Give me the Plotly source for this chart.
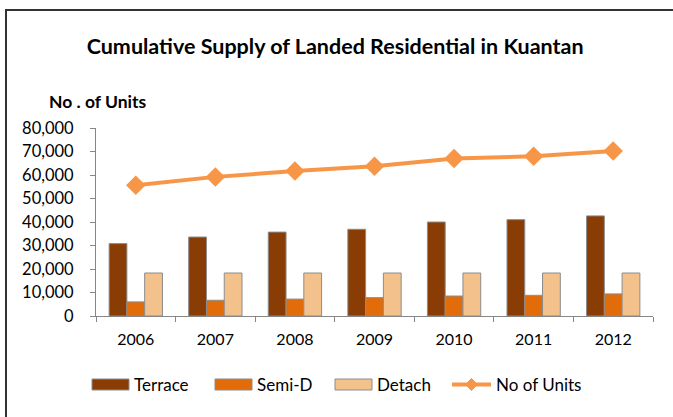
import plotly.graph_objects as go

years = ["2006", "2007", "2008", "2009", "2010", "2011", "2012"]
terrace = [30800, 33600, 35700, 36900, 40000, 41000, 42600]
semi_d = [6000, 6700, 7200, 7800, 8500, 8800, 9400]
detach = [18300, 18300, 18300, 18300, 18300, 18300, 18300]
units = [55600, 59200, 61700, 63700, 67000, 68000, 70200]
series_names = ["Terrace", "Semi-D", "Detach", "No of Units"]

FONT = "Lato"
C_TER, C_SEMI, C_DET, C_LINE = "#8A3C05", "#E36C0A", "#F3C18C", "#F79646"
EDGE = "#8c8c8c"

fig = go.Figure()
fig.add_trace(go.Bar(x=years, y=terrace, name=series_names[0],
                     marker=dict(color=C_TER, line=dict(color=EDGE, width=1))))
fig.add_trace(go.Bar(x=years, y=semi_d, name=series_names[1],
                     marker=dict(color=C_SEMI, line=dict(color=EDGE, width=1))))
fig.add_trace(go.Bar(x=years, y=detach, name=series_names[2],
                     marker=dict(color=C_DET, line=dict(color=EDGE, width=1))))
fig.add_trace(go.Scatter(x=years, y=units, name=series_names[3], mode="lines+markers",
                         line=dict(color=C_LINE, width=4),
                         marker=dict(symbol="diamond", size=15, color=C_LINE)))

L, R, T, B = 96, 20, 128, 101
W, H = 673, 417
pw, ph = W - L - R, H - T - B

def px(x):
    return (x - L) / pw

def py(y):
    return (H - B - y) / ph

fig.update_layout(
    width=W, height=H,
    margin=dict(l=L, r=R, t=T, b=B),
    paper_bgcolor="white", plot_bgcolor="white",
    font=dict(family=FONT, size=16, color="#000000"),
    barmode="group", bargap=0.33, bargroupgap=0,
    title=dict(text="<b>Cumulative Supply of Landed Residential in Kuantan</b>",
               x=0.498, xanchor="center", y=1 - 46 / H, yanchor="middle",
               font=dict(family=FONT, size=21.5, color="#000000")),
    showlegend=False,
)
fig.update_xaxes(type="category", showline=True, linecolor="#868686", linewidth=1,
                 ticks="outside", tickson="boundaries", ticklen=5, tickcolor="#868686",
                 showgrid=False, tickfont=dict(family=FONT, size=16), ticklabelstandoff=9)
fig.update_yaxes(range=[0, 80000], dtick=10000, tickformat=",", showline=True,
                 linecolor="#868686", linewidth=1, ticks="outside", ticklen=5,
                 tickcolor="#868686", showgrid=False, zeroline=False,
                 tickfont=dict(family=FONT, size=16.5), ticklabelstandoff=13)

fig.add_annotation(text="<b>No . of Units</b>", xref="paper", yref="paper",
                   x=px(47), y=py(101), xanchor="left", yanchor="middle",
                   showarrow=False, font=dict(family=FONT, size=17.5, color="#000000"))

# legend drawn manually (wide rectangular swatches like the original)
leg_y = 384.5
swatches = [(92, 129, C_TER), (215, 252, C_SEMI), (335, 372, C_DET)]
for (x0, x1, col), name in zip(swatches, series_names[:3]):
    fig.add_shape(type="rect", xref="paper", yref="paper",
                  x0=px(x0), x1=px(x1), y0=py(leg_y + 5.5), y1=py(leg_y - 5.5),
                  fillcolor=col, line=dict(color=EDGE, width=1))
    fig.add_annotation(text=name, xref="paper", yref="paper", x=px(x1 + 3), y=py(leg_y),
                       xanchor="left", yanchor="middle", showarrow=False,
                       font=dict(family=FONT, size=17, color="#000000"))
fig.add_shape(type="line", xref="paper", yref="paper", x0=px(452), x1=px(491),
              y0=py(leg_y), y1=py(leg_y), line=dict(color=C_LINE, width=4))
cx, cy, r = 471.5, leg_y, 6
diamond = "M {} {} L {} {} L {} {} L {} {} Z".format(
    px(cx), py(cy - r), px(cx + r), py(cy), px(cx), py(cy + r), px(cx - r), py(cy))
fig.add_shape(type="path", xref="paper", yref="paper", path=diamond,
              fillcolor=C_LINE, line=dict(color=C_LINE, width=1))
fig.add_annotation(text=series_names[3], xref="paper", yref="paper", x=px(494), y=py(leg_y),
                   xanchor="left", yanchor="middle", showarrow=False,
                   font=dict(family=FONT, size=17, color="#000000"))

fig.write_html("out.html", config={"displayModeBar": False})
with open("out.html", "r", encoding="utf-8") as f:
    html = f.read()
html = html.replace(
    "<head>",
    "<head><style>html,body{margin:0;padding:0;overflow:hidden;}"
    "#frame{position:fixed;left:5px;top:9px;width:2000px;height:2000px;"
    "border-left:2px solid #333;border-top:2px solid #333;pointer-events:none;"
    "z-index:10;}</style>", 1)
html = html.replace("<body>", '<body><div id="frame"></div>', 1)
with open("out.html", "w", encoding="utf-8") as f:
    f.write(html)
